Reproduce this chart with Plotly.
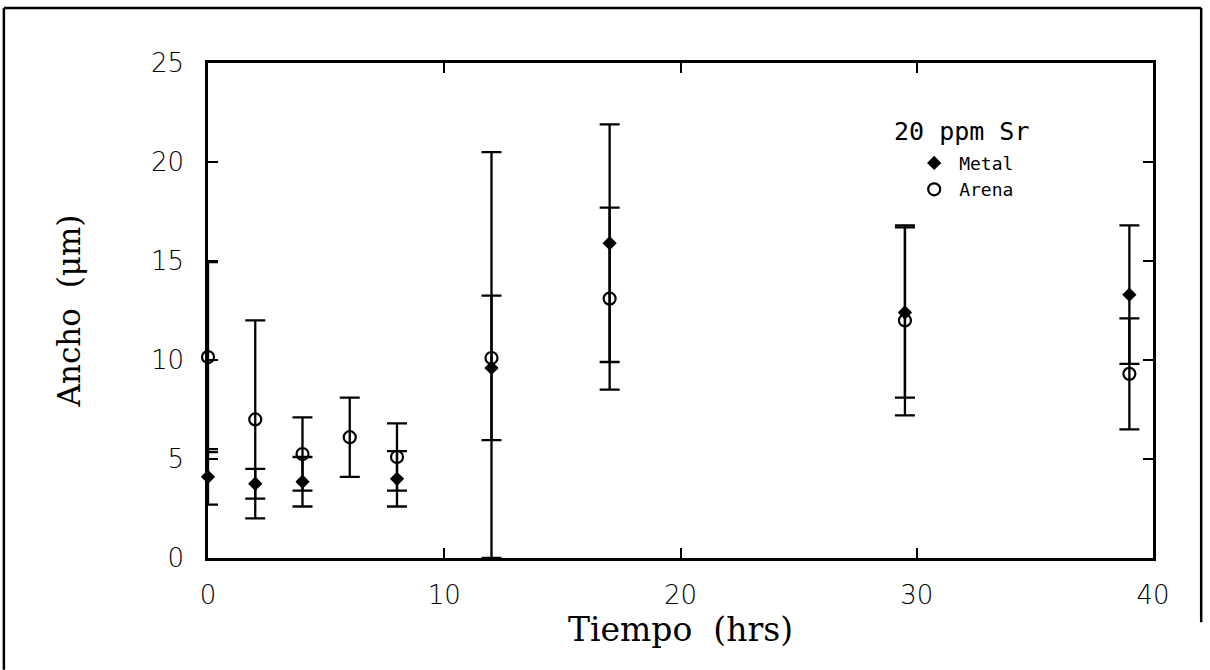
import plotly.graph_objects as go

# Ancho de la fase vs. tiempo de mantenimiento (20 ppm Sr)
tiempo_metal = [0, 2, 4, 8, 12, 17, 29.5, 39]
ancho_metal = [4.1, 3.75, 3.85, 4.0, 9.6, 15.9, 12.4, 13.3]
err_metal = [1.4, 0.75, 1.25, 1.4, 3.65, 6.0, 4.3, 3.5]

tiempo_arena = [0, 2, 4, 6, 8, 12, 17, 29.5, 39]
ancho_arena = [10.15, 7.0, 5.25, 6.1, 5.1, 10.1, 13.1, 12.0, 9.3]
err_arena_sup = [4.8, 5.0, 1.85, 2.0, 1.7, 10.4, 4.6, 4.8, 2.8]
err_arena_inf = [4.8, 5.0, 1.85, 2.0, 1.7, 10.1, 4.6, 4.8, 2.8]

x_ticks = [0, 10, 20, 30, 40]
y_ticks = [0, 5, 10, 15, 20, 25]

fig = go.Figure()

fig.add_trace(go.Scatter(
    x=tiempo_metal, y=ancho_metal, mode="markers", name="Metal",
    marker=dict(symbol="diamond", size=11, color="black"),
    error_y=dict(type="data", array=err_metal, color="black",
                 thickness=2.3, width=10),
    cliponaxis=False,
))
fig.add_trace(go.Scatter(
    x=tiempo_arena, y=ancho_arena, mode="markers", name="Arena",
    marker=dict(symbol="circle-open", size=12, color="black",
                line=dict(width=2.2, color="black")),
    error_y=dict(type="data", array=err_arena_sup, arrayminus=err_arena_inf,
                 color="black", thickness=2.3, width=10),
    cliponaxis=False,
))

tick_font = dict(family="DejaVu Sans", size=26, color="black", weight=300)

fig.update_xaxes(
    range=[0, 40], tickvals=x_ticks, ticktext=[str(v) for v in x_ticks],
    ticks="inside", ticklen=10, tickwidth=2, tickcolor="black",
    showline=True, linecolor="black", linewidth=2.5, mirror="ticks",
    showgrid=False, zeroline=False, tickfont=tick_font,
    ticklabelstandoff=12,
    title=dict(text="Tiempo\u00a0\u00a0(hrs)",
               font=dict(family="DejaVu Serif", size=33, color="black"),
               standoff=8),
)
fig.update_yaxes(
    range=[0, 25], tickvals=y_ticks, ticktext=[str(v) for v in y_ticks],
    ticks="inside", ticklen=10, tickwidth=2, tickcolor="black",
    showline=True, linecolor="black", linewidth=2.5, mirror="ticks",
    showgrid=False, zeroline=False, tickfont=tick_font,
    ticklabelstandoff=16,
    title=dict(text="Ancho\u00a0\u00a0(\u03bcm)",
               font=dict(family="DejaVu Serif", size=31, color="black"),
               standoff=62),
)

# Marco exterior de la figura
frame = dict(type="line", xref="paper", yref="paper",
             line=dict(color="black", width=2.5))
fig.add_shape(frame, x0=-0.216, x1=-0.216, y0=1.111, y1=-0.226)
fig.add_shape(frame, x0=-0.216, x1=1.051, y0=1.111, y1=1.111)
fig.add_shape(frame, x0=1.051, x1=1.051, y0=1.111, y1=-0.13)

# Título de la leyenda
fig.add_annotation(
    text="20 ppm Sr", xref="paper", yref="paper", x=0.724, y=0.862,
    xanchor="left", yanchor="middle", showarrow=False,
    font=dict(family="DejaVu Sans Mono", size=25, color="black"),
)

fig.update_layout(
    width=1210, height=670,
    margin=dict(l=208, r=57, t=63, b=112),
    paper_bgcolor="white", plot_bgcolor="white",
    showlegend=True,
    legend=dict(
        x=0.742, y=0.835, xanchor="left", yanchor="top",
        bgcolor="rgba(0,0,0,0)", borderwidth=0,
        font=dict(family="DejaVu Sans Mono", size=18, color="black"),
        itemwidth=40, tracegroupgap=0,
    ),
)

fig.write_html("out.html")
